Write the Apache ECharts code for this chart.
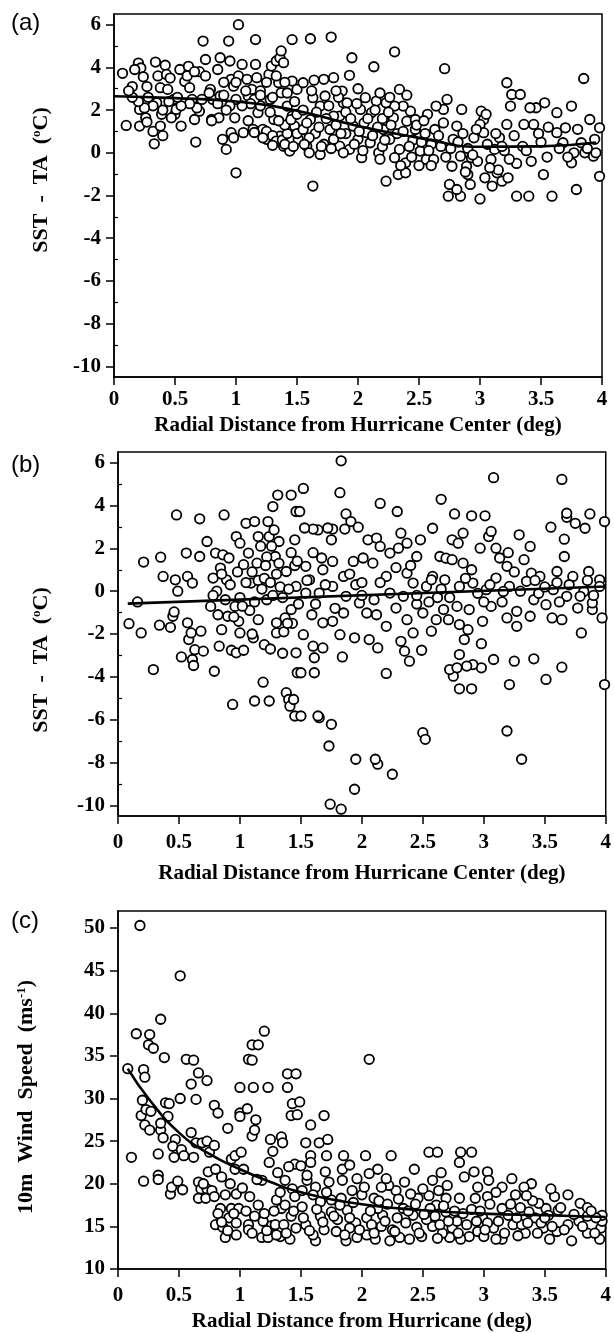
<!DOCTYPE html>
<html>
<head>
<meta charset="utf-8">
<script src="https://cdn.jsdelivr.net/npm/echarts@6/dist/echarts.min.js"></script>
<style>
  html, body { margin: 0; padding: 0; background: #fff; }
  #chart { width: 614px; height: 1333px; }
</style>
</head>
<body>
<div id="chart"></div>
<script>
// (a) SST - TA vs radial distance, first set
const panelA = [
  [0.07,3.72],[0.15,3.1],[0.1,1.28],[0.2,4.2],[0.22,3.97],[0.17,3.9],[0.24,3.56],[0.27,3.1],[0.21,2.03],[0.21,1.25],
  [0.26,1.64],[0.27,1.44],[0.33,0.42],[0.32,1.0],[0.34,4.25],[0.36,3.6],[0.38,3.05],[0.35,2.34],[0.39,1.8],[0.4,0.8],
  [0.38,1.25],[0.42,4.1],[0.43,3.67],[0.46,3.5],[0.44,2.97],[0.49,2.5],[0.5,1.8],[0.51,2.03],[0.47,1.64],[0.54,3.9],
  [0.55,1.25],[0.58,3.34],[0.61,4.05],[0.62,3.05],[0.64,2.5],[0.66,1.56],[0.67,0.5],[0.7,3.8],[0.73,5.23],[0.75,4.37],
  [0.7,1.95],[0.79,2.97],[0.8,1.56],[0.81,2.5],[0.87,4.45],[0.87,2.66],[0.86,1.64],[0.89,0.63],[0.92,0.16],[0.94,5.23],
  [0.95,4.3],[0.96,3.44],[0.98,3.12],[0.99,1.64],[0.96,0.94],[0.98,0.7],[1.0,-0.94],[1.02,6.0],[1.02,3.6],[1.05,4.14],
  [1.06,0.94],[1.09,3.44],[1.1,2.66],[1.13,2.97],[1.16,4.14],[1.16,5.3],[1.17,3.52],[1.18,1.88],[1.14,1.1],[1.2,2.9],
  [1.22,1.1],[1.25,0.63],[1.27,3.67],[1.29,4.06],[1.28,2.5],[1.31,1.56],[1.33,4.3],[1.36,4.45],[1.37,4.77],[1.39,4.22],
  [1.35,3.28],[1.37,2.81],[1.36,0.78],[1.31,0.47],[1.39,0.31],[1.44,0.08],[1.46,5.3],[1.46,3.36],[1.42,2.19],[1.46,1.72],
  [1.5,2.97],[1.48,1.25],[1.51,0.63],
  [1.25,1.0],[1.3,0.8],[1.33,0.55],[1.38,0.6],[1.42,0.9],[1.4,1.3],[1.45,1.55],[1.35,1.5],[1.28,1.9],[1.2,2.2],
  [1.15,2.5],[1.12,2.3],[1.05,2.2],[1.0,2.5],[0.95,2.2],[0.92,2.0],[1.1,1.5],[1.15,0.95],[1.22,0.7],[1.3,0.35],
  [1.4,0.4],[1.47,0.3],[1.5,0.9],[1.5,1.8],[1.48,2.4],[1.42,2.8],[1.4,3.3],[1.33,3.6],[1.25,3.3],[1.2,2.7],
  [1.3,2.6],[1.08,2.9],[1.0,3.3],[0.9,3.3],[0.85,2.3],[0.8,1.5],[0.78,2.8],[0.72,2.5],[0.68,2.1],[0.62,2.3],
  [0.55,2.2],[0.52,2.6],[0.45,2.4],[0.4,2.0],[0.32,2.2],[0.28,2.6],[0.25,2.1],[0.2,2.4],[0.15,2.6],[0.12,2.9],
  [0.6,3.6],[0.66,3.8],[0.75,3.6],[0.85,3.9],[0.9,2.7],
  [1.61,5.34],[1.78,5.42],[1.63,-1.56],[1.95,4.45],[1.93,3.63],[2.13,4.03],[2.3,4.73],[2.34,2.97],[2.71,3.94],[2.73,2.5],
  [2.85,2.03],[3.01,1.95],[3.22,3.28],[3.26,2.73],[3.33,2.73],[3.25,2.19],[3.22,1.33],[3.85,3.48],[3.9,1.56],[3.98,1.17],
  [3.98,-1.1],[3.79,-1.72],[3.59,-2.03],[3.4,-2.03],[3.3,-2.03],[3.0,-2.16],[2.84,-2.03],[2.74,-2.03],[2.75,-1.48],[2.81,-1.72],
  [2.92,-1.48],[2.9,-1.02],[3.1,-1.56],[3.18,-1.33],[3.23,-1.17],[3.14,-0.94],[3.04,-1.17],[3.52,-1.02],[2.23,-1.33],[2.33,-1.02],
  [2.39,-0.94],[3.75,2.19],[3.7,1.17],[3.63,1.88],[3.53,2.34],[3.46,2.11],[3.41,2.11],[3.36,1.33],[3.44,1.33],[3.63,0.94],
  [3.68,0.47],[3.75,-0.47],[3.77,0.0],[3.86,0.0],[3.93,-0.16],[3.94,0.63],[3.83,0.47],[3.03,1.56],[3.0,1.33],[3.05,1.8],
  [2.95,0.7],[3.03,0.94],[3.16,0.7],[3.12,0.16],[3.09,-0.31],[2.93,-0.23],[2.89,-0.63],[2.77,-0.63],[2.84,-0.16],[2.78,0.63],
  [2.81,1.25],[2.7,2.03],[2.64,2.19],[2.57,1.8],[2.63,1.09],[2.56,-0.31],[2.62,-0.31],[2.51,0.08],[2.47,1.09],[2.43,1.95],
  [2.37,2.19],[2.3,2.19],[2.23,2.34],[2.15,2.42],[2.06,2.58],[2.02,2.03],[2.11,1.88],[2.29,1.64],[2.4,1.48],[2.47,1.56],
  [2.21,1.09],[2.26,0.63],[2.17,0.0],[2.34,0.16],[2.39,-0.47],[2.3,-0.23],[2.03,-0.23],[1.93,0.16],[1.85,0.31],[1.8,0.63],
  [1.69,-0.08],[1.58,0.31],[1.55,1.09],[1.61,1.56],[1.69,2.19],[1.73,2.66],[1.8,3.52],[1.72,3.44],[1.87,2.89],[1.88,2.34],
  [1.91,2.34],[1.85,1.72],[1.77,1.09],[1.96,1.25],[2.0,0.63],[2.07,0.94],[2.1,0.47],[1.63,2.58],[1.55,3.28],[1.8,1.72],
  [1.65,0.9],[1.72,0.4],[1.6,0.0],[1.9,0.9],[2.05,1.4],[2.2,1.6],[2.45,0.6],[2.55,0.9],[2.68,0.3],[2.9,0.2],
  [3.2,0.1],[3.35,0.3],[3.5,0.5],[3.55,-0.2],[3.3,-0.5],[3.15,-0.8],[2.98,-0.4],[2.6,0.4],[2.5,-0.6],[2.2,0.3],
  [1.55,2.0],[1.58,1.4],[1.6,0.7],[1.62,2.9],[1.66,1.9],[1.68,1.2],[1.7,0.3],[1.74,1.6],[1.76,2.2],[1.78,0.2],
  [1.82,1.3],[1.84,2.6],[1.86,0.9],[1.88,0.0],[1.9,1.9],[1.94,1.6],[1.97,0.4],[1.99,2.3],[2.01,1.0],[2.04,0.1],
  [2.08,1.6],[2.12,0.8],[2.14,2.0],[2.16,1.2],[2.18,-0.3],[2.22,0.6],[2.25,1.9],[2.27,1.3],[2.32,0.9],[2.35,-0.6],
  [2.37,1.0],[2.42,0.3],[2.44,-0.2],[2.48,1.3],[2.52,0.5],[2.54,1.5],[2.58,0.1],[2.6,-0.6],[2.66,0.8],[2.7,1.4],
  [2.72,-0.2],[2.76,0.2],[2.82,0.5],[2.86,0.9],[2.88,-0.9],[2.94,-0.1],[2.97,1.1],[3.06,0.4],[3.08,-0.7],[3.13,0.9],
  [3.18,0.3],[3.24,-0.3],[3.28,0.8],[3.38,0.1],[3.42,-0.4],[3.48,0.9],[3.56,1.2],[3.65,0.2],[3.72,-0.2],[3.8,1.1],
  [3.88,0.2],[3.95,0.0],[1.56,0.4],[1.64,3.4],[1.82,2.9],[2.0,3.0],[2.18,2.8],[2.26,2.6],[2.4,2.7]
];
const fitA = [[0,2.65],[0.5,2.56],[1,2.4],[1.5,1.97],[2,1.25],[2.5,0.7],[3,0.28],[3.5,0.3],[3.95,0.48]];

// (b) SST - TA vs radial distance, second set
const panelB = [
  [0.09,-1.52],[0.16,-0.5],[0.19,-1.95],[0.21,1.36],[0.29,-3.66],[0.34,-1.59],[0.35,1.59],[0.37,0.69],[0.43,-1.69],[0.45,-1.17],
  [0.46,-0.97],[0.47,0.53],[0.48,3.56],[0.49,0.0],[0.52,-3.07],[0.56,1.78],[0.57,0.69],[0.57,-1.48],[0.58,-2.26],[0.6,-1.95],
  [0.61,0.38],[0.61,-3.19],[0.62,-3.47],[0.63,-2.73],[0.67,3.38],[0.67,1.62],[0.68,-1.87],[0.7,-2.8],[0.73,2.32],[0.76,-0.71],
  [0.78,0.61],[0.79,-3.74],[0.8,1.78],[0.81,0.0],[0.83,-2.57],[0.85,-1.8],[0.84,1.08],[0.86,1.7],[0.87,3.56],[0.89,0.53],
  [0.9,-1.17],[0.91,1.55],[0.93,-2.76],[0.94,-5.29],[0.96,-0.71],[0.97,2.55],[0.97,-2.88],[0.99,-1.41],[1.0,-1.95],[1.0,2.24],
  [1.03,1.24],[1.03,-2.76],[1.05,3.17],[1.07,1.78],[1.09,0.38],[1.11,-2.18],[1.12,3.25],[1.12,-5.13],[1.14,1.31],[1.15,-1.33],
  [1.15,2.55],[1.19,-4.25],[1.2,-2.5],[1.22,-0.4],[1.24,-5.13],[1.23,3.25],[1.24,2.55],[1.27,3.95],[1.28,2.86],[1.29,1.62],
  [1.3,-1.48],[1.3,-1.95],[1.31,4.49],[1.32,2.32],[1.37,-1.25],[1.38,0.92],[1.38,-4.74],[1.4,-5.06],[1.41,-5.37],[1.42,4.49],
  [1.42,-0.86],[1.44,-5.06],[1.45,-5.83],[1.45,2.4],[1.46,3.72],[1.46,-2.88],[1.47,-3.81],[1.46,0.22],
  [1.05,0.4],[1.1,0.9],[1.15,0.5],[1.18,0.1],[1.2,0.6],[1.22,1.6],[1.25,0.4],[1.27,-0.2],[1.3,0.8],[1.33,0.2],
  [1.35,-0.3],[1.4,0.1],[1.43,-1.5],[1.45,1.2],[1.48,-0.6],[1.12,-0.5],[1.08,-0.9],[1.0,-0.3],[0.95,-1.2],[0.92,0.3],
  [0.88,-0.4],[0.85,0.8],[0.82,-1.1],[0.78,-0.2],[1.17,2.1],[1.21,1.2],[1.26,2.1],[1.32,1.3],[1.36,-1.9],[1.39,-1.5],
  [1.42,1.8],[1.47,1.4],[1.1,-2.0],[1.25,-2.7],[1.35,-2.9],[1.02,-0.7],[0.98,0.9],
  [1.52,4.8],[1.83,6.09],[1.82,4.6],[3.08,5.3],[3.64,5.22],[2.15,4.1],[2.29,3.72],[2.65,4.29],[2.76,3.61],[2.9,3.52],
  [3.01,3.52],[1.87,3.61],[1.91,3.25],[1.97,2.99],[1.86,2.9],[1.76,2.9],[1.72,2.95],[1.64,2.86],[1.6,2.9],[1.53,2.95],
  [1.49,3.72],[1.75,2.4],[2.05,2.4],[2.12,2.48],[2.15,2.09],[2.23,1.78],[2.3,2.01],[2.32,2.71],[2.37,2.24],[2.48,2.4],
  [2.45,1.62],[2.58,2.94],[2.64,1.62],[2.74,2.4],[2.79,2.24],[2.83,2.71],[2.83,1.31],[2.97,2.01],[3.04,2.55],[3.06,2.79],
  [3.1,2.01],[3.13,1.55],[3.19,1.16],[3.29,2.63],[3.33,1.47],[3.38,2.09],[3.39,0.84],[3.55,2.99],[3.6,0.92],[3.66,1.62],
  [3.66,2.43],[3.68,3.45],[3.68,3.64],[3.75,3.17],[3.83,2.94],[3.87,3.61],[3.99,3.25],[3.86,0.92],[3.95,0.53],[3.99,-4.36],
  [3.8,-1.95],[3.77,-0.79],[3.89,-0.86],[3.97,-1.25],[3.89,-0.55],[3.64,-1.33],[3.64,-3.55],[3.51,-4.12],[3.41,-3.16],[3.25,-3.27],
  [3.21,-4.36],[3.19,-6.53],[3.31,-7.85],[3.08,-3.19],[2.98,-3.58],[2.91,-3.43],[2.86,-3.5],[2.8,-2.96],[2.8,-4.56],[2.9,-4.56],
  [2.75,-3.97],[2.72,-3.66],[2.78,-3.58],[2.98,-2.45],[2.84,-2.26],[2.5,-6.61],[2.52,-6.92],[2.25,-8.55],[2.13,-8.08],[2.11,-7.85],
  [1.95,-7.85],[1.94,-9.25],[1.83,-10.18],[1.74,-9.95],[1.73,-7.23],[1.75,-6.22],[1.65,-5.91],[1.64,-5.83],[1.5,-5.83],[2.2,-3.84],
  [2.49,-2.76],[2.39,-3.27],[2.32,-2.34],[2.35,-2.8],[2.42,-1.95],[2.13,-2.65],[2.06,-2.26],[1.94,-2.18],[1.84,-3.07],[1.82,-2.03],
  [1.68,-2.65],[1.61,-3.11],[1.61,-3.81],[1.6,-2.57],[1.5,-3.81],[2.2,-1.64],[2.12,-1.1],[2.04,-1.02],[1.85,-1.02],[1.76,-1.41],
  [1.68,-1.48],[1.59,-1.1],[1.52,-2.03],[2.57,-1.87],[2.61,-1.33],[2.71,-1.33],[2.8,-1.56],[2.87,-1.8],[2.99,-1.41],[3.19,-1.25],
  [3.27,-1.64],[3.38,-1.17],[3.51,-0.63],[3.56,-1.25],[3.27,-0.94],[3.06,-0.71],[2.88,-0.86],[2.78,-0.71],[2.67,-0.86],[2.5,-1.02],
  [2.37,-1.33],[2.28,-0.79],[2.23,-0.09],[2.34,-0.24],[2.42,0.38],[2.53,0.22],[2.58,0.69],[2.68,0.53],[2.8,0.22],[2.91,0.38],
  [3.02,0.07],[3.1,0.61],[3.21,0.22],[3.35,0.46],[3.46,0.69],[3.57,0.07],[3.73,0.69],[3.82,-0.01],[3.95,0.22],[2.37,0.84],
  [2.2,0.69],[2.09,1.31],[2.01,1.55],[1.93,1.39],[1.85,0.69],[1.76,1.39],[1.67,1.55],[1.54,1.16],[1.57,0.53],[1.68,1.0],
  [1.87,-0.24],[1.98,-0.55],[2.1,-0.4],[1.76,0.22],[1.65,-0.09],[1.54,-0.09],[2.69,1.54],[2.74,1.47],[2.57,0.53],[3.16,-0.01],
  [3.41,-0.4],[3.68,-0.24],[3.79,-0.24],[3.25,0.9],[3.45,-0.1],[3.6,0.4],[3.0,-0.5],[2.62,-0.3],[2.45,-0.6],[1.95,0.3],
  [1.55,0.5],[1.62,-0.6],[1.7,0.3],[1.78,-0.8],[1.9,0.8],[2.0,-0.2],[2.15,0.4],[2.28,1.1],[2.45,-0.2],[2.55,-0.5],
  [2.65,0.1],[2.72,-0.3],[2.85,0.6],[2.95,-0.1],[3.05,0.3],[3.15,-0.5],[3.3,0.0],[3.42,0.5],[3.5,0.2],[3.62,-0.5],
  [3.7,0.3],[3.85,0.5],[3.9,-0.2],[1.6,1.8],[2.0,0.4],[2.4,1.2],[2.9,1.0],[3.2,1.8]
];
const fitB = [[0.08,-0.58],[4,0.22]];

// (c) 10m wind speed vs radial distance
const panelC = [
  [0.18,50.3],[0.08,33.5],[0.11,23.1],[0.15,37.6],[0.21,33.4],[0.22,32.5],[0.26,37.5],[0.25,36.3],[0.29,35.9],[0.35,39.3],
  [0.38,34.8],[0.2,29.8],[0.19,28.0],[0.23,28.7],[0.27,28.5],[0.22,26.9],[0.26,26.3],[0.21,20.3],[0.33,21.0],[0.33,20.5],
  [0.33,23.5],[0.35,26.3],[0.37,25.4],[0.39,29.5],[0.41,27.9],[0.42,29.4],[0.35,27.1],[0.47,25.2],[0.46,23.1],[0.45,24.4],
  [0.43,18.8],[0.44,19.6],[0.49,20.3],[0.53,19.3],[0.51,44.4],[0.51,30.0],[0.52,24.0],[0.54,23.3],[0.56,34.6],[0.6,26.0],
  [0.6,31.7],[0.62,34.5],[0.62,23.1],[0.64,29.9],[0.64,24.8],[0.66,33.0],[0.66,20.2],[0.68,19.4],[0.66,18.3],[0.69,24.8],
  [0.73,32.1],[0.73,25.0],[0.75,23.7],[0.73,19.4],[0.72,18.3],[0.74,21.4],[0.79,29.2],[0.79,24.5],[0.8,21.7],[0.82,28.3],
  [0.77,19.2],[0.79,18.5],[0.8,15.2],[0.84,17.1],[0.85,20.8],[0.86,14.9],[0.88,13.7],[0.88,18.7],[0.9,26.5],[0.91,16.0],
  [0.93,22.9],[0.93,17.1],[0.96,23.3],[0.96,21.7],[0.97,14.0],[0.97,18.8],[0.97,15.4],[0.99,17.1],[1.0,31.3],[1.01,23.7],
  [1.0,28.3],[1.0,27.9],[1.03,21.7],[1.06,28.8],[1.07,15.2],[1.07,14.6],[1.07,34.6],[1.1,34.5],[1.1,25.6],[1.1,36.3],
  [1.11,31.3],[1.12,26.3],[1.13,27.5],[1.15,36.3],[1.12,16.2],[1.18,20.4],[1.19,15.6],[1.2,37.9],[1.18,13.7],[1.23,31.3],
  [1.23,13.7],[1.24,22.5],[1.25,25.2],[1.26,15.1],[1.27,23.8],[1.29,15.2],[1.3,18.1],[1.31,21.3],[1.33,13.8],[1.34,25.5],
  [1.34,17.1],[1.35,24.8],[1.36,15.2],[1.37,20.4],[1.37,17.5],[1.39,32.9],[1.39,31.3],[1.41,13.5],[1.42,16.2],[1.42,28.0],
  [1.43,19.4],[1.43,29.4],[1.45,22.3],[1.45,18.5],[1.46,32.9],[1.46,14.8],
  [0.82,16.5],[0.85,15.5],[0.9,14.5],[0.95,16.5],[1.02,19.5],[1.05,16.8],[1.1,14.2],[1.15,17.5],[1.2,16.5],[1.22,14.5],
  [1.28,16.8],[1.3,14.0],[1.33,19.0],[1.38,14.2],[1.4,22.0],[1.44,16.8],[1.14,20.5],[1.08,18.5],[0.92,20.0],[0.7,20.0],
  [2.06,34.6],[1.49,29.6],[1.47,28.1],[1.69,28.0],[1.58,26.9],[1.54,24.8],[1.65,24.8],[1.72,25.2],[1.71,23.3],[1.85,23.3],
  [2.03,23.3],[2.24,23.3],[1.58,23.3],[1.5,22.1],[1.58,22.5],[2.43,21.7],[2.55,23.7],[2.62,23.7],[2.81,23.7],[2.9,23.7],
  [2.8,22.5],[3.03,21.4],[2.92,21.4],[2.84,20.8],[2.65,21.3],[2.58,20.4],[2.63,19.2],[2.13,21.7],[2.06,21.2],[1.84,21.7],
  [1.84,20.4],[1.96,20.6],[1.73,20.2],[1.62,19.6],[1.55,20.4],[1.51,19.2],[3.23,20.6],[3.39,20.0],[3.33,19.6],[3.26,18.7],
  [3.15,19.6],[3.04,20.4],[3.1,19.0],[3.03,18.5],[2.93,18.3],[2.8,18.3],[2.69,18.3],[2.61,17.5],[2.46,18.3],[2.4,18.8],
  [2.28,19.2],[2.22,19.8],[2.16,19.6],[2.1,18.3],[2.0,18.7],[1.92,19.2],[1.83,18.3],[1.75,18.1],[1.66,17.9],[1.6,18.7],
  [1.51,17.3],[3.58,18.5],[3.69,18.7],[3.79,17.7],[3.85,17.2],[3.61,16.9],[3.51,17.1],[3.45,17.7],[3.42,16.0],[3.49,14.8],
  [3.34,14.2],[3.24,15.2],[3.15,13.5],[3.1,13.5],[3.08,14.8],[2.99,16.0],[2.95,14.4],[2.88,13.8],[2.81,13.5],[2.74,14.8],
  [2.72,13.7],[2.66,14.2],[2.58,15.0],[2.49,13.8],[2.39,13.5],[2.31,13.7],[2.23,13.3],[2.16,15.0],[2.11,13.5],[2.04,14.0],
  [1.96,13.7],[1.87,13.3],[1.79,14.4],[1.69,14.6],[1.62,13.3],[1.6,14.0],[1.54,15.2],[1.66,16.2],[1.8,15.8],[1.95,15.4],
  [2.04,16.0],[2.17,16.3],[2.29,16.0],[2.42,16.3],[2.53,15.8],[2.69,16.7],[2.83,16.5],[2.94,15.6],[3.15,17.1],[3.2,16.3],
  [3.37,16.7],[3.47,15.4],[3.54,13.5],[3.72,13.3],[3.69,15.2],[3.78,15.6],[3.85,16.2],[3.95,13.5],[3.96,14.8],[3.97,15.6],
  [3.97,16.3],[3.92,16.0],[3.53,16.3],[3.31,15.2],[3.03,15.4],[2.56,17.1],[2.34,17.1],[2.13,17.1],[1.88,16.9],[1.75,16.7],
  [1.9,14.8],[2.08,15.2],[2.25,14.6],[2.45,14.9],[2.62,13.6],[2.78,15.6],[3.0,13.8],[3.28,13.9],[3.6,14.4],[3.85,14.2],
  [1.52,16.0],[1.57,14.5],[1.63,17.0],[1.68,15.5],[1.71,19.0],[1.77,16.2],[1.82,17.5],[1.86,14.0],[1.9,16.0],[1.93,17.8],
  [1.98,14.6],[2.02,19.6],[2.07,16.8],[2.1,14.2],[2.14,18.0],[2.19,15.6],[2.21,17.6],[2.27,14.4],[2.3,18.2],[2.36,15.4],
  [2.38,16.8],[2.44,17.6],[2.47,14.2],[2.51,16.4],[2.55,18.6],[2.6,16.2],[2.64,15.2],[2.67,17.4],[2.71,15.6],[2.76,16.8],
  [2.79,14.2],[2.86,15.2],[2.9,17.0],[2.97,16.8],[3.01,14.6],[3.05,17.6],[3.12,15.6],[3.17,14.2],[3.22,17.6],[3.27,16.0],
  [3.3,17.2],[3.36,15.4],[3.4,18.0],[3.44,14.2],[3.5,16.0],[3.56,15.0],[3.63,17.2],[3.66,14.6],[3.74,16.4],[3.81,15.0],
  [3.88,16.8],[3.91,14.2],[1.55,21.0],[1.7,21.4],[1.9,22.2],[2.2,20.6],[2.35,20.2],[2.5,19.4],[2.7,19.8],[2.95,19.6],
  [3.35,18.6],[3.55,19.4]
];
const fitC = [[0.08,33.5],[0.25,30.0],[0.5,26.0],[0.75,23.5],[1,21.7],[1.25,20.2],[1.5,19.0],[2,17.6],[2.5,16.9],[3,16.5],[3.5,16.3],[4,16.1]];

const sstLabels = [-10, -8, -6, -4, -2, 0, 2, 4, 6];
const sstMinor = [-9, -7, -5, -3, -1, 1, 3, 5];
const windLabels = [10, 15, 20, 25, 30, 35, 40, 45, 50];

const serif = '"Liberation Serif", "Times New Roman", serif';

function xAxisFor(gridIndex, name, labelMargin, nameGap) {
  return {
    type: "value",
    gridIndex: gridIndex,
    min: 0,
    max: 4,
    interval: 0.5,
    name: name,
    nameLocation: "middle",
    nameGap: nameGap,
    nameTextStyle: { fontFamily: serif, fontWeight: "bold", fontSize: 21, color: "#000" },
    axisLine: { show: true, onZero: false, lineStyle: { color: "#000", width: 1.5 } },
    axisTick: { show: true, inside: false, length: 8, lineStyle: { color: "#000", width: 1.5 } },
    axisLabel: { fontFamily: serif, fontWeight: "bold", fontSize: 21, color: "#000", margin: labelMargin },
    splitLine: { show: false }
  };
}

function yAxisFor(gridIndex, min, max, labels, tickLen) {
  return {
    type: "value",
    gridIndex: gridIndex,
    min: min,
    max: max,
    axisLine: { show: true, onZero: false, lineStyle: { color: "#000", width: 1.5 } },
    axisTick: { show: true, inside: false, length: tickLen, customValues: labels, lineStyle: { color: "#000", width: 1.5 } },
    axisLabel: { fontFamily: serif, fontWeight: "bold", fontSize: 21, color: "#000", margin: 13, customValues: labels },
    splitLine: { show: false }
  };
}

function minorAxisFor(gridIndex, min, max, values) {
  return {
    type: "value",
    gridIndex: gridIndex,
    min: min,
    max: max,
    axisLine: { show: false },
    axisTick: { show: true, inside: false, length: 4, customValues: values, lineStyle: { color: "#000", width: 1.2 } },
    axisLabel: { show: false },
    splitLine: { show: false }
  };
}

function scatterFor(axisIndex, data) {
  return {
    type: "scatter",
    xAxisIndex: axisIndex,
    yAxisIndex: axisIndex,
    data: data,
    symbol: "circle",
    symbolSize: 9.5,
    itemStyle: { color: "#fff", borderColor: "#000", borderWidth: 1.8, opacity: 1 },
    z: 2,
    silent: true
  };
}

function fitFor(axisIndex, data, smooth) {
  return {
    type: "line",
    xAxisIndex: axisIndex,
    yAxisIndex: axisIndex,
    data: data,
    smooth: smooth,
    showSymbol: false,
    symbol: "none",
    lineStyle: { color: "#000", width: 2.6 },
    z: 3,
    silent: true
  };
}

const chart = echarts.init(document.getElementById("chart"), null, { renderer: "canvas" });

const labelStyle = { fontFamily: '"Liberation Sans", Arial, sans-serif', fontWeight: "normal", fontSize: 24, color: "#000" };
const supStyle = { fontFamily: serif, fontWeight: "bold", fontSize: 13, verticalAlign: "top", padding: [0, 0, 8, 0] };

const option = {
  animation: false,
  backgroundColor: "#fff",
  title: [
    { text: "(a)", left: 6, top: 6, textStyle: labelStyle },
    { text: "(b)", left: 6, top: 448, textStyle: labelStyle },
    { text: "(c)", left: 6, top: 904, textStyle: labelStyle }
  ],
  graphic: [
    {
      type: "text", x: 41, y: 180, rotation: Math.PI / 2,
      style: {
        text: "SST  -  TA  ({sup|o}C)", font: 'bold 22px "Liberation Serif"',
        align: "center", verticalAlign: "middle", fill: "#000", rich: { sup: supStyle }
      }
    },
    {
      type: "text", x: 41, y: 660, rotation: Math.PI / 2,
      style: {
        text: "SST  -  TA  ({sup|o}C)", font: 'bold 22px "Liberation Serif"',
        align: "center", verticalAlign: "middle", fill: "#000", rich: { sup: supStyle }
      }
    },
    {
      type: "text", x: 26, y: 1097, rotation: Math.PI / 2,
      style: {
        text: "10m  Wind  Speed  (ms{sup|-1})", font: 'bold 22px "Liberation Serif"',
        align: "center", verticalAlign: "middle", fill: "#000", rich: { sup: supStyle }
      }
    }
  ],
  grid: [
    { left: 114, top: 14, width: 488, height: 363, show: true, borderColor: "#000", borderWidth: 1.5, backgroundColor: "transparent" },
    { left: 118, top: 452, width: 488, height: 364, show: true, borderColor: "#000", borderWidth: 1.5, backgroundColor: "transparent" },
    { left: 118, top: 911, width: 494, height: 364, show: true, borderColor: "#000", borderWidth: 1.5, backgroundColor: "transparent" }
  ],
  xAxis: [
    xAxisFor(0, "Radial Distance from Hurricane Center (deg)", 12, 38),
    xAxisFor(1, "Radial Distance from Hurricane Center (deg)", 16, 47),
    xAxisFor(2, "Radial Distance from Hurricane (deg)", 16, 42),
    Object.assign(xAxisFor(0, "", 12, 38), { show: false }),
    Object.assign(xAxisFor(1, "", 12, 38), { show: false })
  ],
  yAxis: [
    yAxisFor(0, -10.5, 6.5, sstLabels, 8),
    yAxisFor(1, -10.5, 6.5, sstLabels, 8),
    yAxisFor(2, 10, 52, windLabels, 8),
    minorAxisFor(0, -10.5, 6.5, sstMinor),
    minorAxisFor(1, -10.5, 6.5, sstMinor)
  ],
  series: [
    scatterFor(0, panelA),
    fitFor(0, fitA, true),
    scatterFor(1, panelB),
    fitFor(1, fitB, false),
    scatterFor(2, panelC),
    fitFor(2, fitC, true)
  ]
};

chart.setOption(option);
</script>
</body>
</html>
